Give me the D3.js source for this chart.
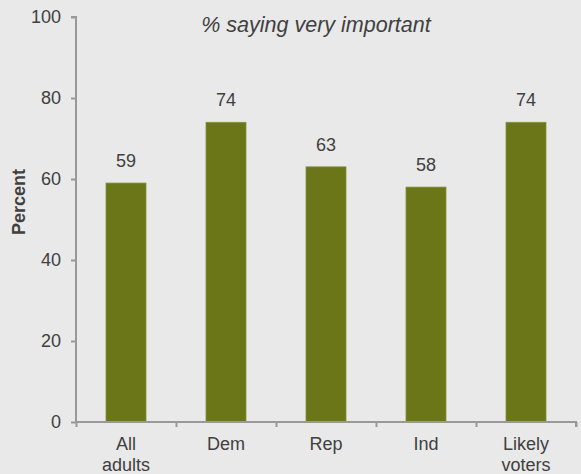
<!DOCTYPE html>
<html><head><meta charset="utf-8">
<script src="https://cdn.jsdelivr.net/npm/d3@7"></script>
<style>
html,body{margin:0;padding:0;background:#e9e9e9;}
svg{display:block;}
text{font-family:"Liberation Sans",Arial,sans-serif;fill:#404040;}
</style></head>
<body>
<svg id="chart" width="581" height="474"></svg>
<script>
const categories = [["All","adults"],["Dem"],["Rep"],["Ind"],["Likely","voters"]];
const values = [59, 74, 63, 58, 74];
const yTicks = [0, 20, 40, 60, 80, 100];
const title = "% saying very important";
const yLabel = "Percent";

(function(){
const svg = d3.select("#chart");
svg.append("rect").attr("width",581).attr("height",474).attr("fill","#e9e9e9");
const pL = 76, pR = 576, pT = 17, pB = 422;
const keys = categories.map(c => c.join(" "));
const x = d3.scaleBand().domain(keys).range([pL, pR]).paddingInner(0.6).paddingOuter(0.3);
const y = d3.scaleLinear().domain([0, 100]).range([pB, pT]);
const axisColor = "#999";

// bars
svg.selectAll("rect.bar").data(values).enter().append("rect")
  .attr("class","bar")
  .attr("x",(d,i)=>x(keys[i]))
  .attr("width",x.bandwidth())
  .attr("y",d=>y(d))
  .attr("height",d=>pB - y(d))
  .attr("fill","#6a7617")
  .attr("stroke","#87913c").attr("stroke-width",0.8);

// value labels
svg.selectAll("text.val").data(values).enter().append("text")
  .attr("class","val")
  .attr("x",(d,i)=>x(keys[i]) + x.bandwidth()/2)
  .attr("y",d=>y(d) - 16)
  .attr("text-anchor","middle")
  .style("font-size","18px")
  .text(d=>d);

// y axis
const yAxis = svg.append("g").attr("transform",`translate(${pL},0)`)
  .call(d3.axisLeft(y).tickValues(yTicks).tickSize(5).tickPadding(10));
yAxis.select(".domain").attr("stroke",axisColor).attr("stroke-width",2).attr("d",`M-5,${pT}H0V${pB}`);
yAxis.selectAll(".tick line").attr("stroke",axisColor).attr("stroke-width",2);
yAxis.selectAll(".tick text").style("font-size","18px").attr("fill","#404040").attr("font-family","Liberation Sans, Arial, sans-serif");

// x axis: ticks at category boundaries
const xb = d3.scaleLinear().domain([0, keys.length]).range([pL, pR]);
const xAxis = svg.append("g").attr("transform",`translate(0,${pB})`)
  .call(d3.axisBottom(xb).tickValues(d3.range(0, keys.length+1)).tickSize(5).tickFormat(""));
xAxis.select(".domain").attr("stroke",axisColor).attr("stroke-width",2).attr("d",`M${pL},0H${pR}V5`);
xAxis.selectAll(".tick line").attr("stroke",axisColor).attr("stroke-width",2);

// category labels
const cl = svg.append("g");
categories.forEach((c,i)=>{
  const t = cl.append("text").attr("x", x(keys[i]) + x.bandwidth()/2).attr("y", 450)
    .attr("text-anchor","middle").style("font-size","18px");
  c.forEach((line,j)=>{
    t.append("tspan").attr("x", x(keys[i]) + x.bandwidth()/2).attr("dy", j===0?0:20.5).text(line);
  });
});

// title
svg.append("text").attr("x",316).attr("y",32).attr("text-anchor","middle")
  .style("font-size","21.5px").style("font-style","italic").text(title);

// y label
svg.append("text").attr("transform","translate(25,202) rotate(-90)").attr("text-anchor","middle")
  .style("font-size","18px").style("font-weight","bold").text(yLabel);
})();
</script>
</body></html>
